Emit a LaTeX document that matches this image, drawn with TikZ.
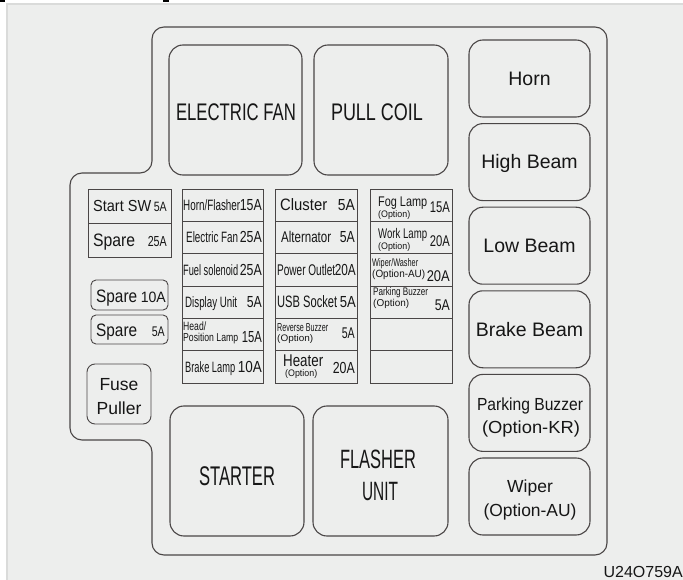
\documentclass[tikz,border=0pt]{standalone}
\usepackage{fontspec}
\setmainfont{Liberation Sans}
\usepackage{graphicx}
\definecolor{bgc}{HTML}{EDEEED}
\definecolor{edgec}{HTML}{DADBDA}
\definecolor{lnc}{HTML}{4A4646}
\definecolor{txc}{HTML}{161616}
\newcommand{\fsz}[1]{\fontsize{#1}{#1}\selectfont}
\newcommand{\sqz}[2]{\resizebox{#1pt}{\height}{#2}}
\tikzset{
  outl/.style={draw=lnc, line width=1.1pt},
  bigbox/.style={draw=lnc, line width=1.1pt, rounded corners=14pt},
  cell/.style={draw=lnc, line width=0.8pt},
  smallbox/.style={draw=lnc, line width=0.9pt, rounded corners=5pt},
  lbl/.style={inner sep=0pt, text=txc, anchor=base west},
  amp/.style={inner sep=0pt, text=txc, anchor=base east},
  ctr/.style={inner sep=0pt, text=txc, anchor=base},
}
\begin{document}
\begin{tikzpicture}[x=1pt,y=-1pt]
\useasboundingbox (0,0) rectangle (683,580);
% background
\fill[white] (0,0) rectangle (683,580);
\fill[bgc] (6,3) rectangle (683,580);
\draw[edgec, line width=2pt] (7,580) -- (7,4) -- (683,4);
\fill[black] (0,0) rectangle (5,2);
\fill[black] (163,0) rectangle (169,2);
% housing outline
\draw[outl, rounded corners=12pt] (300,27) -- (607,27) -- (607,555) -- (152,555) -- (152,440) -- (70,440) -- (70,173) -- (152,173) -- (152,27) -- (300,27);
% big relays
\draw[bigbox] (169,45) rectangle (302,175);
\draw[bigbox] (314,45) rectangle (448,175);
\draw[bigbox] (170,406) rectangle (304,536);
\draw[bigbox] (313,406) rectangle (448,536);
\node[ctr] (efan) at (236,121) {\fsz{24}\sqz{120}{ELECTRIC FAN}};
\node[ctr] (pcoil) at (377,121) {\fsz{24}\sqz{92}{PULL COIL}};
\node[ctr] (start) at (237,485) {\fsz{27}\sqz{76}{STARTER}};
\node[ctr] (flash1) at (378,468) {\fsz{26.5}\sqz{76}{FLASHER}};
\node[ctr] (flash2) at (380,500) {\fsz{26.5}\sqz{36}{UNIT}};
% right column relays
\foreach \i in {0,...,5}{
  \draw[bigbox] (469,{40+83.6*\i}) rectangle (590,{117+83.6*\i});
}
\node[ctr] (horn) at (529.5,85.5) {\fsz{19.5}Horn};
\node[ctr] (hbeam) at (529.5,169) {\fsz{19.5}High Beam};
\node[ctr] (lbeam) at (529.5,252.7) {\fsz{19.5}Low Beam};
\node[ctr] (bbeam) at (529.5,336) {\fsz{19.5}Brake Beam};
\node[ctr] (pb1) at (530,410) {\fsz{17.5}\sqz{106}{Parking Buzzer}};
\node[ctr] (pb2) at (531,433) {\fsz{17.5}\sqz{98}{(Option-KR)}};
\node[ctr] (wp1) at (530,492) {\fsz{17.5}Wiper};
\node[ctr] (wp2) at (530,516) {\fsz{17.5}\sqz{93}{(Option-AU)}};
% left fuse block
\draw[cell] (88,189) rectangle (171,257);
\draw[cell] (88,223) -- (171,223);
\node[lbl] (ssw) at (93,212) {\fsz{16}\sqz{58}{Start SW}};
\node[amp] (ssw5) at (167,212) {\fsz{13.5}\sqz{13}{5A}};
\node[lbl] (sp1) at (93,247) {\fsz{18}\sqz{42}{Spare}};
\node[amp] (sp1a) at (167,247) {\fsz{14.5}\sqz{19}{25A}};
\draw[smallbox] (91,280) rectangle (168,310);
\node[lbl] (sp2) at (96,302) {\fsz{18}\sqz{41}{Spare}};
\node[amp] (sp2a) at (166,302) {\fsz{15}\sqz{25}{10A}};
\draw[smallbox] (91,315) rectangle (168,344);
\node[lbl] (sp3) at (96,336) {\fsz{18}\sqz{41}{Spare}};
\node[amp] (sp3a) at (165,336) {\fsz{14}\sqz{13}{5A}};
\draw[draw=lnc, line width=0.9pt, rounded corners=8pt] (87,364) rectangle (151,424);
\node[ctr] (fp1) at (119,390) {\fsz{17.5}Fuse};
\node[ctr] (fp2) at (119,414) {\fsz{17.5}Puller};
% middle fuse columns
\foreach \xa/\xb in {182/263,275/357,370/452}{
  \draw[cell] (\xa,189) rectangle (\xb,383);
  \foreach \k in {1,...,5}{
    \draw[cell] (\xa,{189+32.33*\k}) -- (\xb,{189+32.33*\k});
  }
}
% column 1
\node[lbl] (c1a) at (183,210.7) {\fsz{15}\sqz{57}{Horn/Flasher}};
\node[amp] (c1aa) at (262,210.7) {\fsz{16}\sqz{22}{15A}};
\node[lbl] (c1b) at (186,243) {\fsz{15}\sqz{52}{Electric Fan}};
\node[amp] (c1ba) at (262,243) {\fsz{16}\sqz{22}{25A}};
\node[lbl] (c1c) at (183,275.3) {\fsz{15}\sqz{55}{Fuel solenoid}};
\node[amp] (c1ca) at (262,275.3) {\fsz{16}\sqz{22}{25A}};
\node[lbl] (c1d) at (185,307.7) {\fsz{15}\sqz{52}{Display Unit}};
\node[amp] (c1da) at (262,307.7) {\fsz{16}\sqz{15}{5A}};
\node[lbl] (c1e1) at (183,330) {\fsz{12}\sqz{23}{Head/}};
\node[lbl] (c1e2) at (183,341.5) {\fsz{11.5}\sqz{55}{Position Lamp}};
\node[amp] (c1ea) at (262,342) {\fsz{16}\sqz{20}{15A}};
\node[lbl] (c1f) at (185,372.3) {\fsz{15}\sqz{50}{Brake Lamp}};
\node[amp] (c1fa) at (262,372.3) {\fsz{16}\sqz{24}{10A}};
% column 2
\node[lbl] (c2a) at (280,211) {\fsz{16.5}\sqz{47}{Cluster}};
\node[amp] (c2aa) at (355,211) {\fsz{16}\sqz{17}{5A}};
\node[lbl] (c2b) at (281,243) {\fsz{15.5}\sqz{50}{Alternator}};
\node[amp] (c2ba) at (355,243) {\fsz{16}\sqz{15}{5A}};
\node[lbl] (c2c) at (277,275.3) {\fsz{15.5}\sqz{58}{Power Outlet}};
\node[amp] (c2ca) at (356,275.3) {\fsz{16}\sqz{21}{20A}};
\node[lbl] (c2d) at (277,307.7) {\fsz{16.5}\sqz{60}{USB Socket}};
\node[amp] (c2da) at (356,307.7) {\fsz{16}\sqz{16}{5A}};
\node[lbl] (c2e1) at (277,331) {\fsz{11.5}\sqz{51}{Reverse Buzzer}};
\node[lbl] (c2e2) at (277,341) {\fsz{9.5}\sqz{36}{(Option)}};
\node[amp] (c2ea) at (355,338.5) {\fsz{15.5}\sqz{13}{5A}};
\node[lbl] (c2f1) at (283,366) {\fsz{17}\sqz{40}{Heater}};
\node[lbl] (c2f2) at (285,376.5) {\fsz{9.5}\sqz{32}{(Option)}};
\node[amp] (c2fa) at (355,373) {\fsz{16}\sqz{22}{20A}};
% column 3
\node[lbl] (c3a1) at (378,207) {\fsz{14}\sqz{49}{Fog Lamp}};
\node[lbl] (c3a2) at (378,217.5) {\fsz{9.5}\sqz{32}{(Option)}};
\node[amp] (c3aa) at (450,213) {\fsz{15.5}\sqz{20}{15A}};
\node[lbl] (c3b1) at (378,239) {\fsz{14}\sqz{49}{Work Lamp}};
\node[lbl] (c3b2) at (378,249.5) {\fsz{9.5}\sqz{32}{(Option)}};
\node[amp] (c3ba) at (450,247) {\fsz{15.5}\sqz{20}{20A}};
\node[lbl] (c3c1) at (372,266.5) {\fsz{11}\sqz{46}{Wiper/Washer}};
\node[lbl] (c3c2) at (372,277) {\fsz{10.5}\sqz{53}{(Option-AU)}};
\node[amp] (c3ca) at (450,282) {\fsz{15.5}\sqz{23}{20A}};
\node[lbl] (c3d1) at (373,295.5) {\fsz{11}\sqz{55}{Parking Buzzer}};
\node[lbl] (c3d2) at (373,306.5) {\fsz{10}\sqz{36}{(Option)}};
\node[amp] (c3da) at (450,310) {\fsz{15.5}\sqz{15}{5A}};
% figure code
\node[amp] (code) at (683,577) {\fsz{16}U24O759A};
\end{tikzpicture}
\end{document}
